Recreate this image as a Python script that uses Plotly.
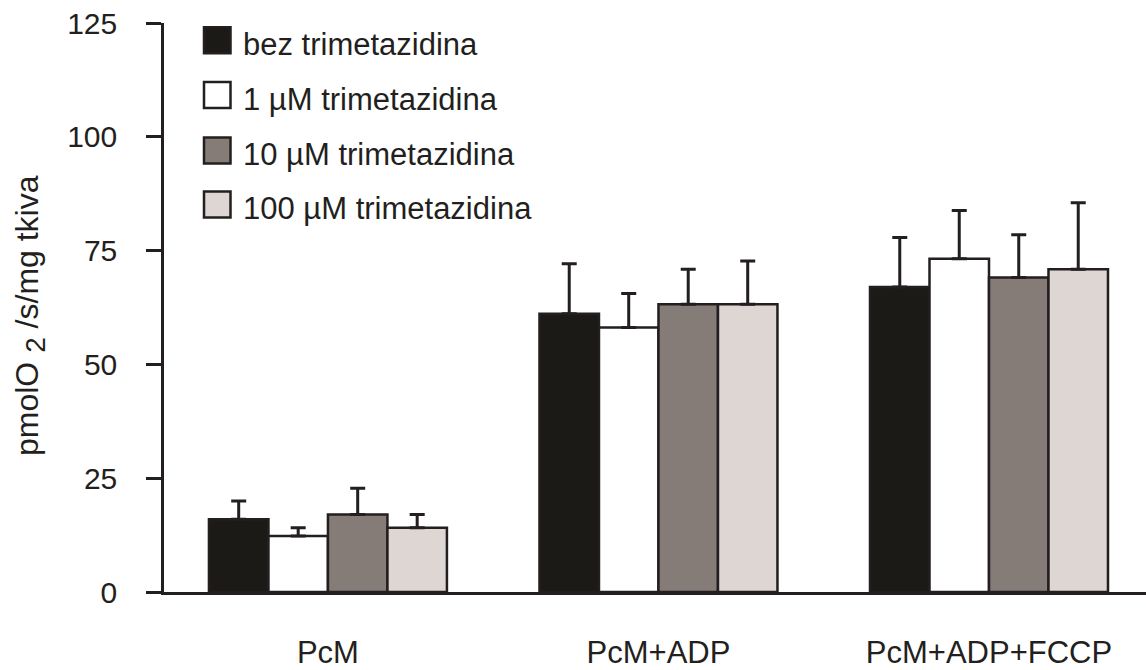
import plotly.graph_objects as go

categories = ["PcM", "PcM+ADP", "PcM+ADP+FCCP"]
series_names = ["bez trimetazidina", "1 µM trimetazidina", "10 µM trimetazidina", "100 µM trimetazidina"]
bez = [16.0, 61.1, 67.0]
um1 = [12.3, 58.1, 73.2]
um10 = [17.0, 63.2, 69.1]
um100 = [14.1, 63.2, 70.9]
err_bez = [4.0, 11.0, 10.9]
err_um1 = [1.8, 7.5, 10.6]
err_um10 = [5.8, 7.7, 9.4]
err_um100 = [2.9, 9.5, 14.6]
y_ticks = [0, 25, 50, 75, 100, 125]
y_title = "pmolO <sub><span style='font-size:28px'>2</span></sub> /s/mg tkiva"

colors = ["#1c1a17", "#ffffff", "#857c78", "#ddd6d3"]
ink = "#231f20"
FONT = "Arial, Liberation Sans, sans-serif"

W, H = 1146, 670
ML, MR, MT, MB = 164, 0, 23, 78

fig = go.Figure()
for name, vals, errs, col in zip(series_names, [bez, um1, um10, um100],
                                 [err_bez, err_um1, err_um10, err_um100], colors):
    fig.add_trace(go.Bar(
        x=categories, y=vals, name=name, showlegend=False,
        marker=dict(color=col, line=dict(color=ink, width=2.5)),
        error_y=dict(type="data", symmetric=False, array=errs,
                     arrayminus=[0] * len(errs), color=ink, thickness=3, width=7.5),
    ))

pw = W - ML - MR
ph = H - MT - MB

def px_x(x):
    return (x - ML) / pw

def px_y(y):
    return (H - MB - y) / ph

# manual legend (large square swatches like the original)
row_px = [40.3, 95.0, 150.5, 204.5]
half = 13
for name, col, yc in zip(series_names, colors, row_px):
    fig.add_shape(type="rect", xref="paper", yref="paper",
                  x0=px_x(204), x1=px_x(230.5),
                  y0=px_y(yc + half), y1=px_y(yc - half),
                  fillcolor=col, line=dict(color=ink, width=2.5))
    fig.add_annotation(xref="paper", yref="paper",
                       x=px_x(241), y=px_y(yc + 4),
                       xanchor="left", yanchor="middle", showarrow=False,
                       text=name, font=dict(family=FONT, size=31, color=ink))

# y-axis title
fig.add_annotation(xref="paper", yref="paper", x=px_x(30), y=px_y(316),
                   xanchor="center", yanchor="middle", showarrow=False,
                   textangle=-90, text=y_title,
                   font=dict(family=FONT, size=32, color=ink))

fig.update_layout(
    width=W, height=H,
    margin=dict(l=ML, r=MR, t=MT, b=MB, autoexpand=False),
    paper_bgcolor="white", plot_bgcolor="white",
    barmode="group", bargap=0.28, bargroupgap=0,
    font=dict(family=FONT, size=30, color=ink),
    xaxis=dict(
        range=[-0.496, 2.475], showline=True, linecolor=ink, linewidth=2.5,
        ticks="", showgrid=False, zeroline=False, automargin=False,
        tickfont=dict(family=FONT, size=31, color=ink),
        ticklabelstandoff=31,
    ),
    yaxis=dict(
        range=[0, 125], tickvals=y_ticks, showline=True, linecolor=ink, linewidth=2.5,
        ticks="outside", ticklen=15, tickwidth=2.5, tickcolor=ink,
        showgrid=False, zeroline=False, automargin=False,
        tickfont=dict(family=FONT, size=30, color=ink),
        ticklabelstandoff=23,
    ),
)

fig.write_html("out.html", config={"displayModeBar": False},
               post_script="document.body.style.margin='0px';")
